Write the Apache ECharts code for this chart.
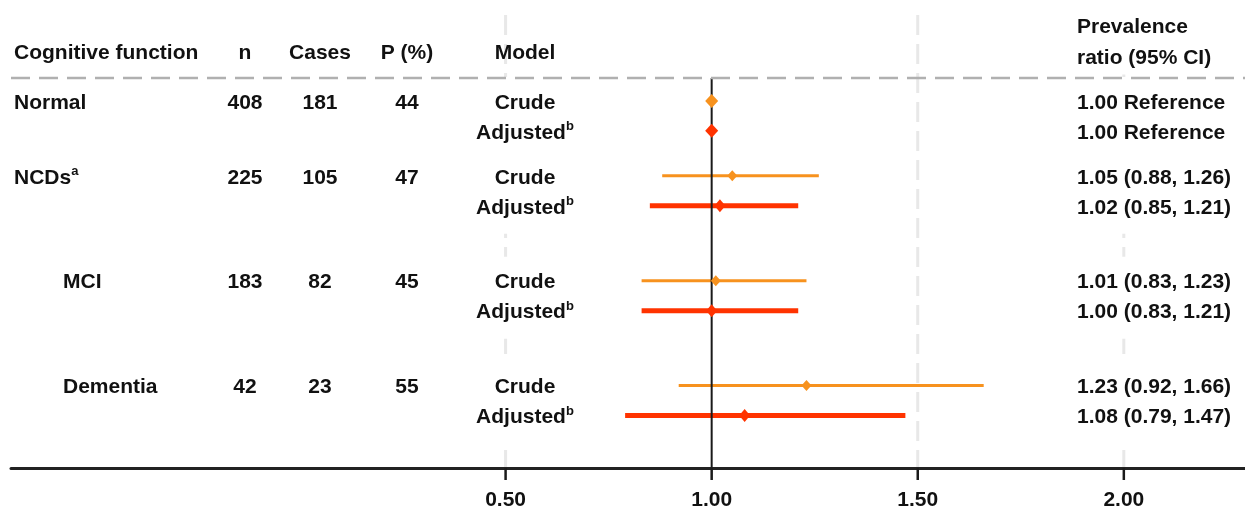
<!DOCTYPE html>
<html>
<head>
<meta charset="utf-8">
<script src="https://cdn.jsdelivr.net/npm/echarts@6/dist/echarts.min.js"></script>
<style>html,body{margin:0;padding:0;background:#fff}#c{width:1245px;height:509px}</style>
</head>
<body>
<div id="c"></div>
<script>
// ---------------- data ----------------
const groups = ['Normal', 'NCDs', 'MCI', 'Dementia'];
const groupSup = ['', 'a', '', ''];
const groupIsSubtype = [false, false, true, true];
const nValues = [408, 225, 183, 42];
const caseValues = [181, 105, 82, 23];
const prevalencePct = [44, 47, 45, 55];
const models = ['Crude', 'Adjusted'];
const modelSup = ['', 'b'];
const prCrude = [1.00, 1.05, 1.01, 1.23];
const lowCrude = [null, 0.88, 0.83, 0.92];
const highCrude = [null, 1.26, 1.23, 1.66];
const prAdjusted = [1.00, 1.02, 1.00, 1.08];
const lowAdjusted = [null, 0.85, 0.83, 0.79];
const highAdjusted = [null, 1.21, 1.21, 1.47];
const xTickValues = [0.5, 1.0, 1.5, 2.0];
const headers = ['Cognitive function', 'n', 'Cases', 'P (%)', 'Model'];
const prHeader = ['Prevalence', 'ratio (95% CI)'];
const referenceLabel = 'Reference';

// ---------------- layout (half-row slots on the category axis) ----------------
const gapBefore = [6, 2, 4, 4];
const gapAfter = 3;
const cats = [];
const rowIndex = [];
let gapId = 0;
groups.forEach((g, gi) => {
  for (let i = 0; i < gapBefore[gi]; i++) cats.push('_gap' + (gapId++));
  rowIndex[gi] = [];
  models.forEach((m, mi) => {
    if (mi > 0) cats.push('_gap' + (gapId++));
    rowIndex[gi][mi] = cats.length;
    cats.push(g + ' ' + m);
  });
});
for (let i = 0; i < gapAfter; i++) cats.push('_gap' + (gapId++));

const FONT = '"Liberation Sans", Arial, sans-serif';
const TXT = '#111111';
const CRUDE_COLOR = '#F7921E';
const ADJ_COLOR = '#FF3300';
const COL = { group: 14, groupIndent: 63, n: 245, cases: 320, p: 407, model: 525, pr: 1077 };
const TEXT_DY = 2;

const est = [prCrude, prAdjusted];
const lows = [lowCrude, lowAdjusted];
const highs = [highCrude, highAdjusted];

function richBase(fill) {
  return {
    m: { fontFamily: FONT, fontWeight: 'bold', fontSize: 21, lineHeight: 26, fill: fill, color: fill },
    s: { fontFamily: FONT, fontWeight: 'bold', fontSize: 13, lineHeight: 15, fill: fill, color: fill, verticalAlign: 'top' }
  };
}
function txt(text, x, y, align) {
  return {
    type: 'text', x: x, y: y, z2: 10,
    style: {
      text: text, align: align, verticalAlign: 'middle',
      fontFamily: FONT, fontWeight: 'bold', fontSize: 21, fill: TXT,
      rich: richBase(TXT)
    }
  };
}
// white box behind a text (drawn below every text so it only hides the grid lines)
function txtBg(text, x, y, align) {
  return {
    type: 'text', x: align === 'left' ? x - 3 : x, y: y, z2: 0,
    style: {
      text: text, align: align, verticalAlign: 'middle',
      fontFamily: FONT, fontWeight: 'bold', fontSize: 21, fill: 'rgba(0,0,0,0)',
      rich: richBase('rgba(0,0,0,0)'),
      backgroundColor: '#ffffff', padding: [13, 3]
    }
  };
}
function withSup(main, sup) {
  return sup ? '{m|' + main + '}{s|' + sup + '}' : '{m|' + main + '}';
}

// table rows data for the custom text series
const tableRows = [];
groups.forEach((g, gi) => models.forEach((m, mi) => tableRows.push([0, rowIndex[gi][mi], gi, mi])));

function ciData(mi) {
  const out = [];
  groups.forEach((g, gi) => {
    if (lows[mi][gi] != null) out.push([lows[mi][gi], highs[mi][gi], rowIndex[gi][mi]]);
  });
  return out;
}
function pointData(mi) {
  return groups.map((g, gi) => ({
    value: [est[mi][gi], rowIndex[gi][mi]],
    symbolSize: lows[mi][gi] == null ? [13, 14] : (mi === 0 ? [10, 11] : [11, 13])
  }));
}
function ciRender(color, width) {
  return function (params, api) {
    const s = api.coord([api.value(0), api.value(2)]);
    const e = api.coord([api.value(1), api.value(2)]);
    return { type: 'line', shape: { x1: s[0], y1: s[1], x2: e[0], y2: e[1] }, style: { stroke: color, lineWidth: width } };
  };
}

const chart = echarts.init(document.getElementById('c'), null, { renderer: 'canvas' });
const GRID = { left: 11, right: 0, top: 3.5, bottom: 41 };

const option = {
  animation: false,
  backgroundColor: '#ffffff',
  grid: { left: GRID.left, right: GRID.right, top: GRID.top, bottom: GRID.bottom, containLabel: false, outerBoundsMode: 'none' },
  xAxis: {
    type: 'value', min: -0.7, max: 2.294,
    axisLine: { show: true, onZero: false, lineStyle: { color: '#222222', width: 3 } },
    axisTick: { show: false },
    axisLabel: { show: true, customValues: xTickValues, formatter: v => Number(v).toFixed(2), fontFamily: FONT, fontWeight: 'bold', fontSize: 21, color: TXT, margin: 22 },
    splitLine: { show: false }
  },
  yAxis: {
    type: 'category', data: cats, inverse: true,
    axisLine: { show: false }, axisTick: { show: false }, axisLabel: { show: false }, splitLine: { show: false }
  },
  series: [
    {
      type: 'custom', name: 'table', z: 2, silent: true,
      data: tableRows, encode: { x: 0, y: 1 },
      renderItem: function (params, api) {
        const gi = api.value(2), mi = api.value(3);
        const y = api.coord([0, api.value(1)])[1] + TEXT_DY;
        const children = [];
        if (mi === 0) {
          children.push(txt(withSup(groups[gi], groupSup[gi]), groupIsSubtype[gi] ? COL.groupIndent : COL.group, y, 'left'));
          children.push(txt(withSup(String(nValues[gi])), COL.n, y, 'center'));
          children.push(txt(withSup(String(caseValues[gi])), COL.cases, y, 'center'));
          children.push(txt(withSup(String(prevalencePct[gi])), COL.p, y, 'center'));
        }
        const modelText = withSup(models[mi], modelSup[mi]);
        children.push(txtBg(modelText, COL.model, y, 'center'));
        children.push(txt(modelText, COL.model, y, 'center'));
        const pr = est[mi][gi], lo = lows[mi][gi], hi = highs[mi][gi];
        const prText = withSup(lo == null ? pr.toFixed(2) + ' ' + referenceLabel : pr.toFixed(2) + ' (' + lo.toFixed(2) + ', ' + hi.toFixed(2) + ')');
        children.push(txtBg(prText, COL.pr, y, 'left'));
        children.push(txt(prText, COL.pr, y, 'left'));
        return { type: 'group', children: children };
      }
    },
    {
      type: 'custom', name: 'Crude CI', z: 3, silent: true,
      data: ciData(0), encode: { x: [0, 1], y: 2 },
      renderItem: ciRender(CRUDE_COLOR, 3)
    },
    {
      type: 'custom', name: 'Adjusted CI', z: 3, silent: true,
      data: ciData(1), encode: { x: [0, 1], y: 2 },
      renderItem: ciRender(ADJ_COLOR, 5)
    },
    {
      type: 'scatter', name: 'Crude', z: 5, symbol: 'diamond',
      itemStyle: { color: CRUDE_COLOR, opacity: 1 },
      data: pointData(0)
    },
    {
      type: 'scatter', name: 'Adjusted', z: 5, symbol: 'diamond',
      itemStyle: { color: ADJ_COLOR, opacity: 1 },
      data: pointData(1)
    }
  ]
};
chart.setOption(option);

// decorations derived from the axis scale
const W = 1245, H = 509;
const axisY = H - GRID.bottom;
const ruleY = 78;
const xp = v => chart.convertToPixel({ xAxisIndex: 0 }, v);
const graphics = [];
xTickValues.forEach(v => {
  graphics.push({
    type: 'line', z: 7, silent: true,
    shape: { x1: xp(v), y1: axisY, x2: xp(v), y2: axisY + 12 },
    style: { stroke: '#1a1a1a', lineWidth: 2.5 }
  });
  if (v === 1) return;
  graphics.push({
    type: 'line', z: 0, silent: true,
    shape: { x1: xp(v), y1: 15, x2: xp(v), y2: axisY },
    style: { stroke: '#e8e8e8', lineWidth: 3, lineDash: [20, 9] }
  });
});
graphics.push({
  type: 'line', z: 4, silent: true,
  shape: { x1: xp(1), y1: ruleY, x2: xp(1), y2: axisY },
  style: { stroke: '#1a1a1a', lineWidth: 2 }
});
graphics.push({
  type: 'line', z: 6, silent: true,
  shape: { x1: GRID.left, y1: ruleY, x2: W, y2: ruleY },
  style: { stroke: '#b0b0b0', lineWidth: 2.5, lineDash: [19, 9] }
});
function headerText(text, x, y, align, bg) {
  return {
    type: 'text', z: 1, silent: true, x: bg && align === 'left' ? x - 3 : x, y: y,
    style: {
      text: text, align: align, verticalAlign: 'middle',
      font: 'bold 21px ' + FONT, fontFamily: FONT, fontWeight: 'bold', fontSize: 21, fill: TXT,
      backgroundColor: bg ? '#ffffff' : null, padding: bg ? [6, 3] : 0
    }
  };
}
const headerY = 53;
graphics.push(headerText(headers[0], COL.group, headerY, 'left', false));
graphics.push(headerText(headers[1], COL.n, headerY, 'center', false));
graphics.push(headerText(headers[2], COL.cases, headerY, 'center', false));
graphics.push(headerText(headers[3], COL.p, headerY, 'center', false));
graphics.push(headerText(headers[4], COL.model, headerY, 'center', false));
graphics.push(headerText(prHeader[0], COL.pr, 27, 'left', true));
graphics.push(headerText(prHeader[1], COL.pr, 58, 'left', true));
chart.setOption({ graphic: { elements: graphics } });
</script>
</body>
</html>
